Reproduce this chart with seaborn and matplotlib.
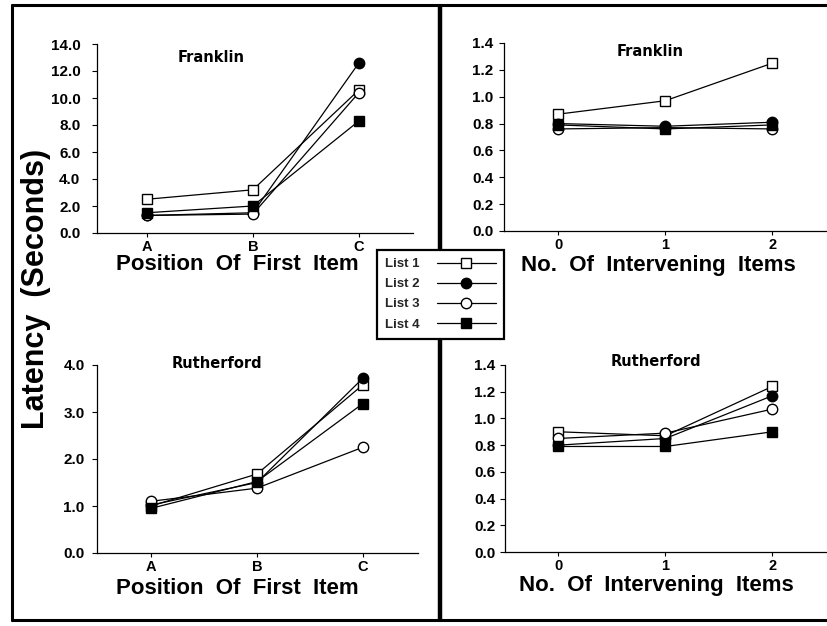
import matplotlib
matplotlib.use("Agg")
import matplotlib.pyplot as plt
import seaborn as sns
import pandas as pd
from matplotlib.lines import Line2D
from matplotlib.ticker import FormatStrFormatter, MultipleLocator

# ---- data -------------------------------------------------------------
positions = ["A", "B", "C"]
intervening = ["0", "1", "2"]
list_names = ["List 1", "List 2", "List 3", "List 4"]

franklin_position = [
    [2.5, 3.2, 10.6],
    [1.3, 1.5, 12.6],
    [1.3, 1.4, 10.4],
    [1.5, 2.0, 8.3],
]
franklin_intervening = [
    [0.87, 0.97, 1.25],
    [0.80, 0.78, 0.81],
    [0.76, 0.77, 0.76],
    [0.79, 0.76, 0.79],
]
rutherford_position = [
    [1.00, 1.68, 3.58],
    [1.02, 1.50, 3.72],
    [1.10, 1.38, 2.25],
    [0.95, 1.52, 3.18],
]
rutherford_intervening = [
    [0.90, 0.87, 1.24],
    [0.80, 0.85, 1.17],
    [0.85, 0.89, 1.07],
    [0.79, 0.79, 0.90],
]

# ---- styles -----------------------------------------------------------
marker_shapes = ["s", "o", "o", "s"]
marker_faces = ["white", "black", "white", "black"]

sns.set_theme(style="ticks")
plt.rcParams["font.family"] = ["Liberation Sans", "DejaVu Sans"]
plt.rcParams["font.weight"] = "bold"
plt.rcParams["axes.labelweight"] = "bold"

W, H = 827, 626
fig = plt.figure(figsize=(W / 100, H / 100), dpi=100)


def fx(px):
    return px / W


def fy(py):
    return 1 - py / H


def add_panel(box, cats, values, ymax, ystep, xlim, ypad, title, title_xy,
              xlabel, xlabel_xy):
    left, top, right, bottom = box
    ax = fig.add_axes([fx(left), fy(bottom), (right - left) / W, (bottom - top) / H])
    for name, vals, mk, face in zip(list_names, values, marker_shapes, marker_faces):
        df = pd.DataFrame({"x": cats, "y": vals})
        sns.lineplot(data=df, x="x", y="y", ax=ax, color="black", linewidth=0.9,
                     marker=mk, markersize=7.5, markerfacecolor=face,
                     markeredgecolor="black", markeredgewidth=1.0,
                     errorbar=None, sort=False, label=name, legend=False)
    ax.set_ylim(0, ymax)
    ax.set_xlim(*xlim)
    ax.yaxis.set_major_locator(MultipleLocator(ystep))
    ax.yaxis.set_major_formatter(FormatStrFormatter("%.1f"))
    for side in ("top", "right"):
        ax.spines[side].set_visible(False)
    for side in ("left", "bottom"):
        ax.spines[side].set_linewidth(0.9)
        ax.spines[side].set_color("black")
    ax.tick_params(axis="y", direction="out", length=3.5, width=0.8,
                   labelsize=11, pad=ypad, colors="black")
    ax.tick_params(axis="x", direction="out", length=3, width=0.8,
                   labelsize=10.5, pad=2, colors="black")
    for lab in ax.get_xticklabels() + ax.get_yticklabels():
        lab.set_fontweight("bold")
    ax.set_ylabel("")
    ax.set_xlabel(xlabel, fontsize=16, fontweight="bold", color="black")
    ax.xaxis.set_label_coords(fx(xlabel_xy[0]), fy(xlabel_xy[1]), transform=fig.transFigure)
    ax.xaxis.label.set_va("center")
    ax.set_facecolor("white")
    fig.text(fx(title_xy[0]), fy(title_xy[1]), title, ha="center", va="center",
             fontsize=10.5, fontweight="bold", color="black",
             family=["DejaVu Sans"])
    return ax


ax_tl = add_panel((97, 44, 413, 233), positions, franklin_position, 14.0, 2.0,
                  (-0.47, 2.51), 8.5, "Franklin", (211, 57),
                  "Position  Of  First  Item", (237, 265))
ax_tr = add_panel((504, 43, 827, 231), intervening, franklin_intervening, 1.4, 0.2,
                  (-0.505, 2.51), 4, "Franklin", (650, 52),
                  "No.  Of  Intervening  Items", (658, 265))
ax_bl = add_panel((97, 365, 418, 553), positions, rutherford_position, 4.0, 1.0,
                  (-0.51, 2.52), 5.5, "Rutherford", (217, 364),
                  "Position  Of  First  Item", (237, 589))
ax_br = add_panel((505, 365, 827, 552), intervening, rutherford_intervening, 1.4, 0.2,
                  (-0.5, 2.51), 3.5, "Rutherford", (656, 361),
                  "No.  Of  Intervening  Items", (656, 586))

# shared y label
fig.text(fx(36), fy(289), "Latency  (Seconds)", rotation=90, ha="center", va="center",
         fontsize=22, fontweight="bold", color="black")

# outer frame and middle divider
frame_kw = dict(transform=fig.transFigure, color="black", solid_capstyle="butt")
fig.add_artist(Line2D([fx(11), 1], [fy(5), fy(5)], lw=2.2, **frame_kw))
fig.add_artist(Line2D([fx(12), fx(12)], [fy(4), fy(621)], lw=2.2, **frame_kw))
fig.add_artist(Line2D([fx(11), 1], [fy(620), fy(620)], lw=2.2, **frame_kw))
fig.add_artist(Line2D([fx(440), fx(440)], [fy(4), fy(621)], lw=3.2, **frame_kw))

# legend shared by all panels
handles = ax_tl.get_lines()[:4]
leg = fig.legend(handles, list_names, loc="upper left",
                 bbox_to_anchor=(fx(377), fy(250)), bbox_transform=fig.transFigure,
                 markerfirst=False, frameon=True, fancybox=False, framealpha=1,
                 edgecolor="black", facecolor="white", fontsize=9.5,
                 handlelength=4.5, handletextpad=1.3, borderpad=0.6,
                 labelspacing=0.6, borderaxespad=0, numpoints=1)
leg.get_frame().set_linewidth(1.6)
for t in leg.get_texts():
    t.set_fontweight("bold")

fig.savefig("out.png", dpi=100, facecolor="white")
